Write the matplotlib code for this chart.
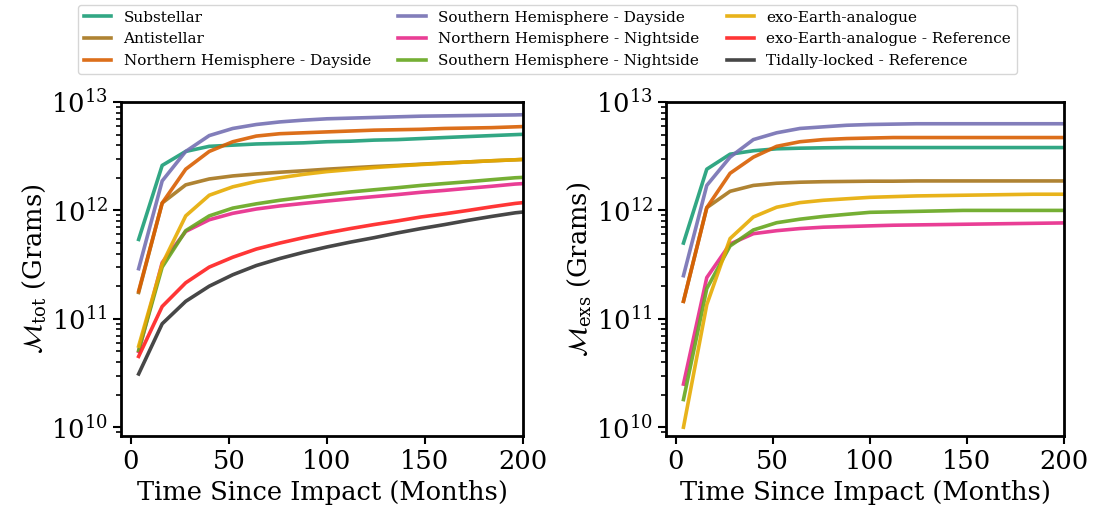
import numpy as np
import matplotlib
matplotlib.use("Agg")
import matplotlib.pyplot as plt

plt.rcParams['font.family'] = 'DejaVu Serif'
plt.rcParams['mathtext.fontset'] = 'dejavuserif'

# time since impact (months)
months = [4, 16, 28, 40, 52, 64, 76, 88, 100, 112, 124, 136, 148, 160, 172, 184, 196, 208]

labels = ["Substellar", "Antistellar", "Northern Hemisphere - Dayside",
          "Southern Hemisphere - Dayside", "Northern Hemisphere - Nightside",
          "Southern Hemisphere - Nightside", "exo-Earth-analogue",
          "exo-Earth-analogue - Reference", "Tidally-locked - Reference"]
colors = ['#1b9e77', '#a6761d', '#d95f02', '#7570b3', '#e7298a',
          '#66a61e', '#e6ab02', '#ff2020', '#333333']

# total mass (grams)
tot_substellar = [5.4e11, 2.6e12, 3.5e12, 3.9e12, 4.0e12, 4.1e12, 4.15e12, 4.2e12, 4.3e12,
                  4.35e12, 4.45e12, 4.5e12, 4.6e12, 4.7e12, 4.8e12, 4.9e12, 5.0e12, 5.1e12]
tot_antistellar = [1.75e11, 1.17e12, 1.72e12, 1.95e12, 2.08e12, 2.17e12, 2.25e12, 2.32e12, 2.4e12,
                   2.47e12, 2.54e12, 2.6e12, 2.67e12, 2.74e12, 2.8e12, 2.87e12, 2.93e12, 3.0e12]
tot_north_day = [1.8e11, 1.17e12, 2.4e12, 3.5e12, 4.3e12, 4.85e12, 5.1e12, 5.2e12, 5.3e12,
                 5.4e12, 5.5e12, 5.55e12, 5.6e12, 5.7e12, 5.75e12, 5.8e12, 5.9e12, 6.0e12]
tot_south_day = [2.9e11, 1.87e12, 3.5e12, 4.9e12, 5.7e12, 6.2e12, 6.55e12, 6.8e12, 7.0e12,
                 7.1e12, 7.2e12, 7.3e12, 7.4e12, 7.45e12, 7.5e12, 7.55e12, 7.6e12, 7.7e12]
tot_north_night = [5.0e10, 3.3e11, 6.4e11, 8.2e11, 9.4e11, 1.03e12, 1.1e12, 1.16e12, 1.22e12,
                   1.28e12, 1.34e12, 1.4e12, 1.47e12, 1.53e12, 1.6e12, 1.67e12, 1.75e12, 1.8e12]
tot_south_night = [5.1e10, 3.0e11, 6.5e11, 8.9e11, 1.05e12, 1.15e12, 1.24e12, 1.32e12, 1.4e12,
                   1.48e12, 1.55e12, 1.62e12, 1.7e12, 1.77e12, 1.84e12, 1.92e12, 2.0e12, 2.05e12]
tot_exo = [5.6e10, 3.2e11, 8.9e11, 1.38e12, 1.65e12, 1.85e12, 2.0e12, 2.15e12, 2.28e12,
           2.38e12, 2.48e12, 2.57e12, 2.65e12, 2.72e12, 2.8e12, 2.87e12, 2.93e12, 3.0e12]
tot_exo_ref = [4.5e10, 1.3e11, 2.15e11, 3.0e11, 3.7e11, 4.4e11, 5.0e11, 5.6e11, 6.2e11,
               6.8e11, 7.4e11, 8.0e11, 8.7e11, 9.3e11, 1.0e12, 1.08e12, 1.16e12, 1.22e12]
tot_tidal_ref = [3.1e10, 9.0e10, 1.45e11, 2.0e11, 2.55e11, 3.1e11, 3.6e11, 4.1e11, 4.6e11,
                 5.1e11, 5.6e11, 6.2e11, 6.8e11, 7.4e11, 8.1e11, 8.8e11, 9.5e11, 1.0e12]

# exospheric mass (grams)
exs_substellar = [5.0e11, 2.4e12, 3.3e12, 3.55e12, 3.7e12, 3.75e12, 3.78e12, 3.8e12, 3.8e12,
                  3.8e12, 3.8e12, 3.8e12, 3.8e12, 3.8e12, 3.8e12, 3.8e12, 3.8e12, 3.8e12]
exs_antistellar = [1.45e11, 1.06e12, 1.5e12, 1.7e12, 1.78e12, 1.82e12, 1.84e12, 1.85e12, 1.86e12,
                   1.86e12, 1.87e12, 1.87e12, 1.87e12, 1.87e12, 1.87e12, 1.87e12, 1.87e12, 1.87e12]
exs_north_day = [1.45e11, 1.06e12, 2.2e12, 3.1e12, 3.9e12, 4.3e12, 4.5e12, 4.6e12, 4.65e12,
                 4.7e12, 4.7e12, 4.7e12, 4.7e12, 4.7e12, 4.7e12, 4.7e12, 4.7e12, 4.7e12]
exs_south_day = [2.5e11, 1.7e12, 3.1e12, 4.5e12, 5.2e12, 5.7e12, 5.9e12, 6.1e12, 6.2e12,
                 6.25e12, 6.3e12, 6.3e12, 6.3e12, 6.3e12, 6.3e12, 6.3e12, 6.3e12, 6.3e12]
exs_north_night = [2.5e10, 2.4e11, 4.9e11, 6.1e11, 6.5e11, 6.8e11, 7.0e11, 7.1e11, 7.2e11,
                   7.3e11, 7.35e11, 7.4e11, 7.45e11, 7.5e11, 7.55e11, 7.6e11, 7.65e11, 7.7e11]
exs_south_night = [1.8e10, 1.9e11, 4.7e11, 6.6e11, 7.7e11, 8.3e11, 8.8e11, 9.2e11, 9.6e11,
                   9.7e11, 9.8e11, 9.9e11, 1.0e12, 1.0e12, 1.0e12, 1.0e12, 1.0e12, 1.0e12]
exs_exo = [1.0e10, 1.35e11, 5.5e11, 8.7e11, 1.07e12, 1.18e12, 1.24e12, 1.28e12, 1.32e12,
           1.34e12, 1.36e12, 1.37e12, 1.38e12, 1.39e12, 1.4e12, 1.41e12, 1.41e12, 1.41e12]

tot = [tot_substellar, tot_antistellar, tot_north_day, tot_south_day, tot_north_night,
       tot_south_night, tot_exo, tot_exo_ref, tot_tidal_ref]
exs = [exs_substellar, exs_antistellar, exs_north_day, exs_south_day, exs_north_night,
       exs_south_night, exs_exo]

fig = plt.figure(figsize=(10.95, 5.23), dpi=100)
ax1 = fig.add_axes([121/1095, 1 - 436/523, 402/1095, 334/523])
ax2 = fig.add_axes([666/1095, 1 - 436/523, 398/1095, 334/523])

handles = []
for i, y in enumerate(tot):
    h, = ax1.plot(months, y, color=colors[i], lw=2.6, alpha=0.9, label=labels[i])
    handles.append(h)
for i, y in enumerate(exs):
    ax2.plot(months, y, color=colors[i], lw=2.6, alpha=0.9)

for ax, lab in [(ax1, r'$\mathcal{M}_{\rm tot}$ (Grams)'), (ax2, r'$\mathcal{M}_{\rm exs}$ (Grams)')]:
    ax.set_yscale('log')
    ax.set_xlim(-5, 200)
    ax.set_ylim(8.3e9, 1e13)
    ax.set_xticks([0, 50, 100, 150, 200])
    ax.set_xlabel('Time Since Impact (Months)', fontsize=18.5)
    ax.set_ylabel(lab, fontsize=18.5, labelpad=2)
    ax.tick_params(labelsize=18.5, width=1.5, length=6)
    ax.tick_params(which='minor', width=1.2, length=3.5)
    for s in ax.spines.values():
        s.set_linewidth(2)

fig.legend(handles=handles, loc='upper center', bbox_to_anchor=(0.5, 1.0), ncol=3,
           fontsize=11, frameon=True, columnspacing=1.8, handlelength=1.8,
           borderaxespad=0.3)

fig.savefig('out.png', dpi=100)
